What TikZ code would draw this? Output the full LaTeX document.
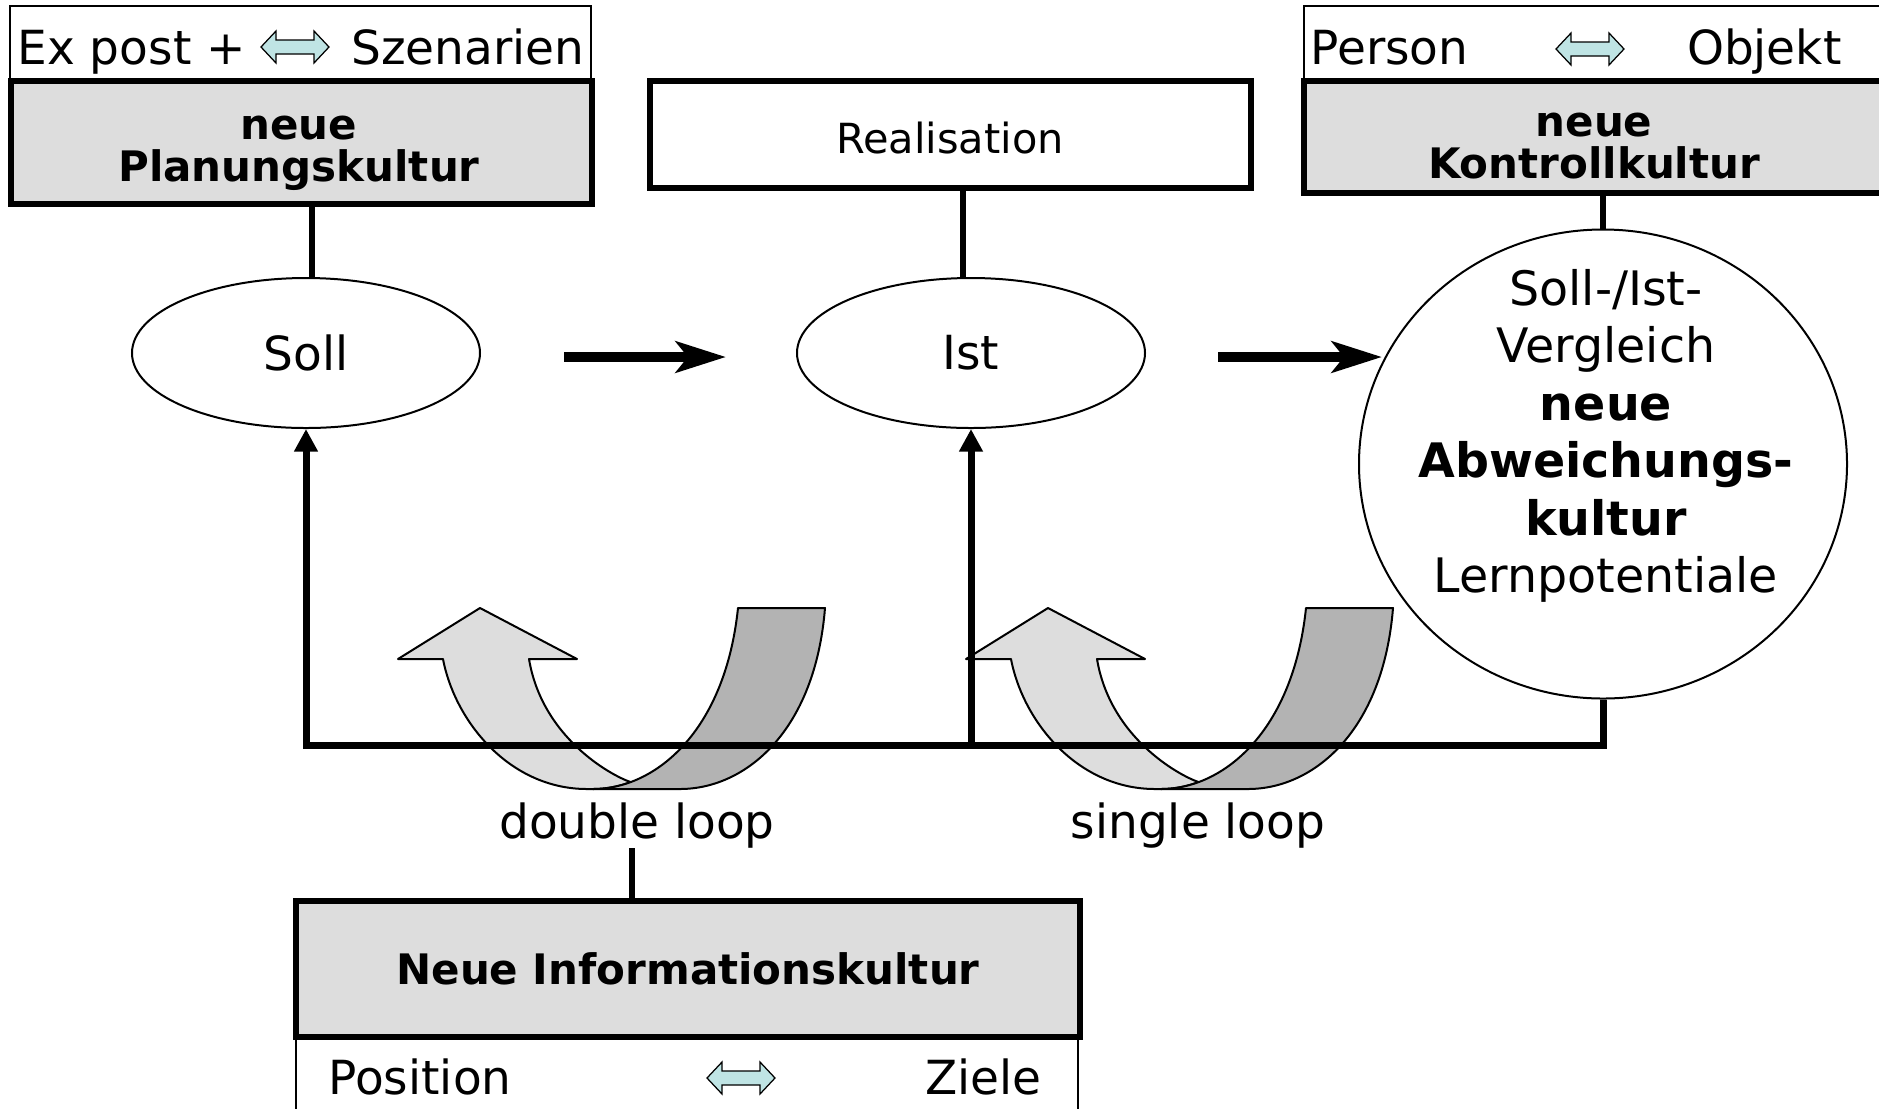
\documentclass[tikz,border=0pt]{standalone}
\usepackage{fontspec}
\setmainfont{DejaVu Sans}
\usetikzlibrary{arrows.meta,calc,shapes.geometric}

\definecolor{boxgray}{RGB}{221,221,221}
\definecolor{bandgray}{RGB}{179,179,179}
\definecolor{arrowcyan}{RGB}{191,228,228}

% font sizes (one drawing unit = 0.4pt)
\newcommand{\szBig}{\fontsize{18.8pt}{23.8pt}\selectfont}
\newcommand{\szTitle}{\fontsize{16.8pt}{16.8pt}\selectfont\bfseries}
\newcommand{\szReal}{\fontsize{16.6pt}{20pt}\selectfont}
\newcommand{\szCirc}{\fontsize{19pt}{23pt}\selectfont}

\tikzset{
  lblbox/.style={draw, line width=0.8pt, fill=white, inner sep=0pt},
  titlebox/.style={draw, line width=2.4pt, fill=boxgray, inner sep=0pt, font=\szTitle},
  plainbox/.style={draw, line width=2.4pt, fill=white, inner sep=0pt, font=\szReal},
  ellipsebox/.style={ellipse, draw, line width=0.8pt, fill=white, inner sep=0pt,
    minimum width=139.2pt, minimum height=60pt, font=\szBig},
  txt/.style={inner sep=0pt, font=\szBig},
  conn/.style={line width=2.3pt},
  fb/.style={line width=2.8pt, -{Triangle[length=9pt,width=9pt]}},
  bigarrow/.style={line width=4pt, -{Stealth[length=20pt,width=12.4pt,inset=4.8pt]}},
  lightband/.style={draw, line width=0.8pt, fill=boxgray, line join=round},
  darkband/.style={draw, line width=0.8pt, fill=bandgray, line join=round},
  dblarrow/.pic={
    \draw[line width=0.5pt, fill=arrowcyan]
      (-34,0) -- (-19,-16) -- (-19,-7) -- (19,-7) -- (19,-16) -- (34,0)
      -- (19,16) -- (19,7) -- (-19,7) -- (-19,16) -- cycle;
  },
  uturn/.pic={
    % front (light) half ending in the arrow head
    \draw[lightband] (-187,-123) -- (-232,-123) -- (-150,-174) -- (-53,-123) -- (-101,-123)
      .. controls (-88,-45) and (-20,-7) .. (0.64,0.08)
      .. controls (-11.88,4.72) and (-24.6,7) .. (-37,7) -- (-43,7)
      .. controls (-120,7) and (-175,-60) .. (-187,-123) -- cycle;
    % rear (dark) half
    \draw[darkband] (108,-174) -- (195,-174)
      .. controls (185,-50) and (115,7) .. (50,7) -- (-37,7)
      .. controls (25,7) and (95,-50) .. (108,-174) -- cycle;
  }
}

\begin{document}
\begin{tikzpicture}[x=0.4pt,y=-0.4pt]
  \fill[white] (0,0) rectangle (1879,1108);
  \clip (0,0) rectangle (1879,1108);

  % planning column
  \node[lblbox, minimum width=232.4pt, minimum height=30pt] (lblplan) at (300.5,43.5) {};
  \node[titlebox, minimum width=232.4pt, minimum height=49.2pt] (plan) at (301.5,142.5) {};
  \node[inner sep=0pt, align=center, font=\szTitle] (plantxt) at (299,153) {neue\\Planungskultur};
  \node[txt, anchor=base west] (expost) at (17,64) {Ex post +};
  \node[txt, anchor=base east] (szen) at (585,64) {Szenarien};
  \pic at (295,47) {dblarrow};

  % realisation
  \node[plainbox, minimum width=240.4pt, minimum height=42.8pt] (real) at (950.5,134.5) {};
  \node[inner sep=0pt, anchor=base, font=\szReal] (realtxt) at (950,153) {Realisation};

  % control column
  \node[lblbox, minimum width=232pt, minimum height=30pt] (lblctl) at (1594,43.5) {};
  \node[titlebox, minimum width=232pt, minimum height=44.8pt] (ctl) at (1594,137) {};
  \node[inner sep=0pt, align=center, font=\szTitle] (ctltxt) at (1594,146) {neue\\Kontrollkultur};
  \node[txt, anchor=base west] (person) at (1310,64) {Person};
  \node[txt, anchor=base east] (objekt) at (1842,64) {Objekt};
  \pic at (1590,49) {dblarrow};

  % information culture
  \node[lblbox, minimum width=312.8pt, minimum height=50.4pt] (infolbl) at (687,1100) {};
  \node[titlebox, minimum width=313.6pt, minimum height=54.4pt] (info) at (688,969) {Neue Informationskultur};
  \node[txt, anchor=base west] (position) at (328,1094) {Position};
  \node[txt, anchor=base east] (ziele) at (1042,1094) {Ziele};
  \pic at (741,1078) {dblarrow};

  % learning loops
  \pic at (630,782) {uturn};
  \pic at (1198,782) {uturn};
  \node[txt, anchor=base] (dbl) at (637,838) {double loop};
  \node[txt, anchor=base] (sgl) at (1198,838) {single loop};

  % states
  \node[ellipsebox] (soll) at (306,353) {Soll};
  \node[ellipsebox] (ist) at (971,353) {Ist};
  \node[ellipse, draw, line width=0.8pt, fill=white, minimum width=195.2pt,
        minimum height=187.6pt, inner sep=0pt] (cmp) at (1603,464) {};
  \node[inner sep=0pt, align=center, font=\szCirc] (cmptxt) at (1606,436)
    {Soll-/Ist-\\Vergleich\\\textbf{neue}\\\textbf{Abweichungs-}\\\textbf{kultur}\\Lernpotentiale};

  % links to the culture boxes
  \draw[conn] ($(plan.south -| soll.north)+(6,0)$) -- ($(soll.north)+(6,0)$);
  \draw[conn] ($(real.south -| ist.north)+(-8,0)$) -- ($(ist.north)+(-8,0)$);
  \draw[conn] (ctl.south -| cmp.north) -- (cmp.north);
  \draw[conn] ($(dbl.south)+(-5,0)$) -- ($(info.north -| dbl.south)+(-5,0)$);

  % main flow
  \draw[bigarrow] ($(soll.east)+(83,4)$) -- ($(ist.west)+(-70,4)$);
  \draw[bigarrow] ($(ist.east)+(72,4)$) -- ($(ist.east)+(236,4)$);

  % feedback
  \coordinate (fbR) at ($(cmp.south)+(0,46)$);
  \draw[fb] (cmp.south) -- (fbR) -| (soll.south);
  \draw[fb] (fbR -| ist.south) -- (ist.south);
\end{tikzpicture}
\end{document}
